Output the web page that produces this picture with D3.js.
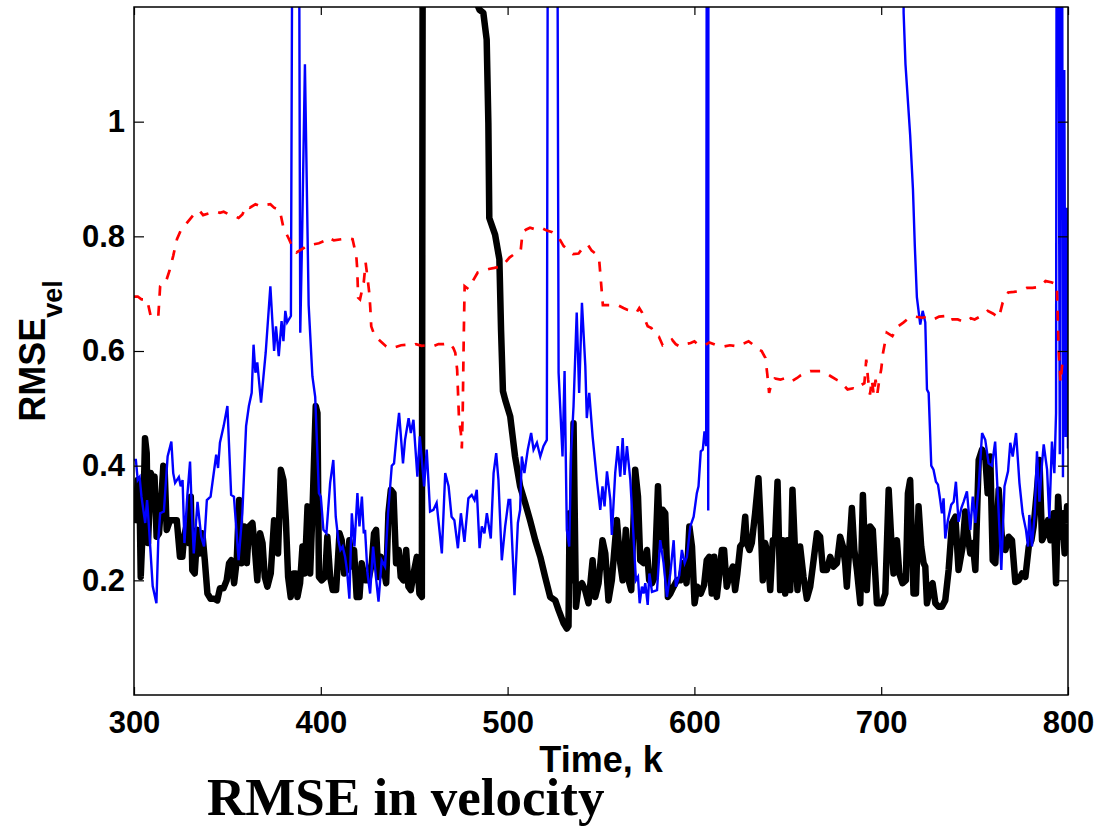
<!DOCTYPE html>
<html>
<head>
<meta charset="utf-8">
<script src="https://cdn.jsdelivr.net/npm/d3@7"></script>
<style>
  body { margin: 0; background: #fff; }
  svg { display: block; }
  .tick text { font-family: "Liberation Sans", Arial, sans-serif; font-weight: bold; }
</style>
</head>
<body>
<div class="container"></div>
<script>
// axis settings
const kRange = [300, 800]
const vRange = [0, 1.2]
const xTicks = [300, 400, 500, 600, 700, 800]
const yTicks = [0.2, 0.4, 0.6, 0.8, 1]

// red dashed curve  [k, rmse]
const dashedRed = [[300,0.695],[302,0.695],[304,0.69],[307,0.69],[309,0.66],[311,0.66],[313,0.66],[314,0.713],[316,0.72],[317,0.72],[319,0.74],[321,0.766],[323,0.795],[325,0.81],[327,0.818],[330,0.83],[333,0.842],[335,0.845],[337,0.837],[340,0.84],[344,0.843],[346,0.841],[348,0.843],[351,0.838],[354,0.835],[356,0.832],[358,0.838],[360,0.853],[362,0.85],[365,0.856],[368,0.852],[371,0.855],[373,0.856],[375,0.85],[378,0.846],[380,0.815],[383,0.795],[385,0.78],[387,0.772],[389,0.776],[391,0.78],[393,0.785],[396,0.786],[399,0.788],[402,0.792],[404,0.798],[407,0.793],[411,0.795],[414,0.797],[417,0.795],[419,0.766],[419.5,0.743],[420,0.693],[421,0.69],[423,0.72],[424,0.754],[425,0.728],[426,0.70],[426.5,0.675],[427,0.643],[429,0.625],[431,0.62],[433,0.614],[435,0.608],[437,0.605],[440,0.607],[443,0.61],[446,0.611],[449,0.609],[451,0.612],[454,0.609],[457,0.61],[460,0.608],[463,0.612],[466,0.612],[469,0.614],[471,0.605],[472,0.597],[473,0.567],[474,0.48],[475,0.457],[475.5,0.43],[476,0.5],[476.5,0.62],[477,0.713],[479,0.708],[481,0.72],[484,0.737],[487,0.74],[490,0.743],[493,0.745],[497,0.748],[501,0.763],[504,0.77],[507,0.775],[508,0.807],[510,0.812],[512,0.815],[515,0.812],[518,0.815],[521,0.81],[524,0.807],[527,0.8],[530,0.783],[533,0.775],[535,0.769],[538,0.77],[541,0.783],[543,0.785],[545,0.775],[547,0.77],[549,0.76],[550,0.72],[551,0.68],[553,0.68],[556,0.68],[559,0.68],[562,0.675],[564,0.672],[567,0.67],[569,0.667],[570.5,0.675],[572,0.667],[575,0.643],[577,0.64],[579,0.628],[581,0.625],[583,0.61],[586,0.615],[588,0.62],[590,0.612],[592,0.608],[595,0.612],[598,0.614],[600,0.617],[602,0.611],[604,0.612],[606,0.611],[608,0.615],[611,0.611],[614,0.61],[616,0.608],[619,0.61],[623,0.608],[625,0.612],[627,0.614],[629,0.617],[631,0.612],[633,0.605],[636,0.6],[638,0.588],[639,0.56],[640,0.527],[641,0.54],[643,0.552],[646,0.55],[649,0.553],[652,0.547],[655,0.553],[657,0.558],[659,0.562],[662,0.565],[665,0.565],[668,0.565],[670,0.562],[673,0.556],[676,0.55],[678,0.547],[680,0.54],[682,0.533],[685,0.535],[687,0.533],[689,0.54],[691,0.544],[692,0.585],[693,0.55],[694,0.524],[695,0.55],[696,0.524],[697,0.55],[698,0.527],[699,0.55],[700,0.568],[701,0.597],[703,0.632],[706,0.626],[709,0.643],[712,0.65],[715,0.658],[718,0.66],[722,0.658],[725,0.66],[728,0.655],[731,0.66],[734,0.661],[736,0.652],[738,0.655],[741,0.655],[745,0.65],[748,0.657],[750,0.655],[754,0.662],[757,0.67],[760,0.665],[763,0.658],[765,0.684],[768,0.702],[771,0.703],[775,0.705],[778,0.71],[781,0.71],[785,0.712],[788,0.722],[791,0.72],[794,0.716],[795,0.6],[796,0.545],[797,0.58]]

// thin blue curve (values above 1.2 run off the top of the axes)
const thinBlue = [[300,0.41],[301,0.41],[302,0.375],[303,0.38],[304,0.346],[306,0.3],[307,0.34],[308,0.294],[310,0.19],[312,0.16],[313,0.27],[314,0.317],[316,0.32],[318,0.416],[320,0.442],[321,0.387],[322,0.37],[324,0.38],[325,0.364],[326,0.375],[327,0.265],[328.5,0.346],[330,0.407],[331,0.317],[332,0.247],[334,0.337],[336,0.276],[337.5,0.259],[339,0.34],[341,0.346],[344,0.419],[345,0.396],[346,0.44],[348,0.469],[350,0.504],[352,0.349],[353.5,0.346],[356,0.235],[358,0.317],[360,0.469],[361.5,0.504],[363,0.527],[364,0.611],[365,0.562],[366,0.58],[368,0.51],[370.5,0.597],[373,0.713],[375,0.6],[376,0.643],[377.5,0.591],[379,0.652],[380,0.617],[381,0.67],[382,0.65],[384,0.661],[385,1.6],[386,2.2],[388,1.8],[389,0.632],[390,0.8],[391.5,1.1],[393.5,0.68],[395.5,0.556],[397,0.52],[399,0.352],[400,0.346],[401.4,0.288],[403,0.282],[405,0.37],[406.7,0.41],[408,0.311],[409.4,0.27],[410.5,0.253],[411.7,0.259],[413,0.241],[414,0.218],[415.3,0.168],[416.6,0.317],[418,0.259],[419.6,0.352],[420.7,0.294],[422,0.346],[423,0.282],[423.7,0.288],[425,0.212],[426.4,0.177],[428,0.259],[429.5,0.206],[430.9,0.163],[432.6,0.235],[434.4,0.224],[436,0.317],[438,0.4],[439.2,0.404],[440.7,0.457],[441.9,0.492],[444,0.404],[445.1,0.445],[447,0.483],[448.2,0.457],[449.6,0.48],[451.7,0.381],[453,0.451],[455.3,0.364],[456.7,0.428],[458.5,0.32],[460.3,0.323],[462,0.335],[464.8,0.247],[466.6,0.387],[468.4,0.364],[470,0.311],[471.5,0.305],[473.4,0.256],[475,0.317],[476.9,0.267],[479,0.343],[480.8,0.349],[482.3,0.34],[483.5,0.358],[485,0.256],[486.2,0.294],[487.6,0.282],[488.9,0.317],[491,0.273],[492.5,0.387],[493.9,0.422],[495.1,0.375],[496.9,0.235],[498.7,0.294],[500.5,0.34],[501.4,0.34],[503.7,0.174],[505.5,0.3],[506.7,0.323],[507.6,0.416],[509,0.387],[510.8,0.428],[512.6,0.457],[513.9,0.428],[515.7,0.44],[517.5,0.416],[519.2,0.434],[521,0.445],[522,2.2],[526,2.2],[527.3,0.562],[529.4,0.416],[530.5,0.565],[531.7,0.288],[533,0.259],[534,0.422],[535.3,0.504],[537,0.667],[538.3,0.527],[539.8,0.684],[541.6,0.574],[542.4,0.483],[543.7,0.527],[545.5,0.451],[547.8,0.375],[549.6,0.323],[550.8,0.364],[551.9,0.329],[553.2,0.39],[555,0.34],[555.8,0.279],[557.6,0.387],[559,0.434],[560.3,0.381],[561.6,0.448],[562.6,0.384],[563.9,0.434],[565.7,0.375],[567.1,0.294],[568.7,0.2],[569.8,0.206],[570.7,0.16],[571.9,0.189],[572.8,0.177],[573.7,0.195],[575,0.157],[575.9,0.212],[577.3,0.18],[580,0.183],[581.7,0.27],[583.5,0.23],[585.3,0.171],[587.1,0.212],[588.9,0.27],[590.1,0.189],[591.9,0.209],[593.3,0.253],[594.8,0.23],[596,0.241],[597.8,0.294],[599.6,0.311],[601.3,0.352],[602.2,0.364],[603.4,0.425],[604.5,0.428],[605.4,0.46],[606.3,0.434],[606.9,2.2],[607.4,0.322],[607.6,2.2],[711,2.2],[712,1.19],[713,1.1],[715.5,0.977],[717,0.882],[718,0.783],[719.1,0.694],[720.9,0.646],[722.2,0.67],[723.6,0.65],[724.5,0.533],[725.4,0.527],[726.8,0.4],[728,0.393],[729.3,0.372],[730.4,0.367],[731.6,0.34],[732.5,0.317],[733.4,0.343],[734.3,0.273],[735.7,0.305],[737.5,0.332],[738.8,0.337],[740,0.372],[741.4,0.302],[742.9,0.326],[744.1,0.337],[745.9,0.355],[747.7,0.288],[749,0.346],[750.4,0.3],[752.2,0.364],[754,0.457],[755.7,0.445],[757.5,0.404],[759.3,0.4],[761,0.442],[762.9,0.317],[764.3,0.218],[766,0.364],[767.9,0.39],[769.1,0.44],[770.4,0.416],[772.2,0.457],[774,0.37],[775.7,0.317],[777.5,0.288],[778.6,0.259],[779.3,0.314],[780.7,0.259],[782.2,0.317],[783.4,0.425],[784.7,0.337],[786.1,0.404],[787,0.437],[788.8,0.393],[790,0.308],[791.4,0.442],[792.7,0.387],[793.6,0.492],[794.2,2.2],[795.6,0.42],[796.5,2.2],[797.3,0.38],[798,1.09],[798.7,0.45],[799.3,0.85],[800,0.43]]

// thick black curve
const thickBlack = [[300,0.3],[301,0.317],[302,0.375],[303,0.34],[303.6,0.206],[305,0.317],[305.9,0.448],[306.8,0.422],[307.5,0.265],[309,0.387],[310.4,0.375],[311,0.381],[312.1,0.276],[313.4,0.282],[314.6,0.34],[315.7,0.4],[316.4,0.393],[317.5,0.288],[319.3,0.305],[321,0.305],[322.9,0.305],[324.6,0.241],[325.9,0.241],[326.8,0.276],[328.2,0.297],[329.5,0.265],[330.4,0.346],[331.2,0.218],[332.5,0.212],[334,0.288],[335.4,0.247],[336.6,0.282],[337.9,0.235],[339.3,0.177],[341,0.168],[342.9,0.168],[344.6,0.165],[346,0.186],[347.9,0.186],[349.6,0.2],[350.9,0.23],[352.1,0.235],[353.6,0.195],[355,0.235],[356.3,0.34],[357.5,0.23],[359,0.294],[360.4,0.23],[361.6,0.294],[363.4,0.3],[364.6,0.259],[366,0.2],[367.5,0.282],[368.8,0.265],[370,0.206],[371.4,0.189],[373.2,0.212],[375,0.305],[376.4,0.288],[377.1,0.247],[378.6,0.393],[380,0.375],[381.3,0.305],[382.5,0.206],[383.9,0.171],[385.4,0.212],[386.6,0.212],[387.5,0.171],[388.9,0.195],[390.2,0.259],[391.4,0.212],[392.9,0.329],[394.3,0.212],[395.5,0.317],[397.3,0.504],[398.2,0.492],[399,0.206],[400.5,0.2],[402.3,0.206],[403.5,0.276],[405,0.206],[406.4,0.183],[408.2,0.183],[410,0.282],[411.2,0.27],[412.5,0.212],[413.9,0.218],[415.3,0.27],[416.6,0.224],[417.8,0.253],[419.2,0.171],[420.7,0.171],[421.9,0.23],[423.7,0.2],[425.5,0.2],[427.3,0.23],[428.5,0.282],[429.6,0.288],[430.9,0.206],[432.1,0.241],[433.5,0.224],[435,0.195],[436.2,0.317],[437.5,0.358],[438.9,0.352],[440.3,0.23],[441.7,0.253],[442.8,0.206],[444.2,0.2],[445.7,0.253],[446.9,0.189],[448.2,0.183],[450,0.218],[451.4,0.241],[452.8,0.177],[454.1,0.171],[455,2.5],[482,2.5],[483,1.21],[485,1.195],[487,1.19],[488.8,1.143],[489.7,0.998],[490.2,0.832],[493.3,0.803],[495.6,0.76],[496.5,0.636],[497.5,0.53],[498.7,0.515],[501.4,0.486],[504,0.416],[506.7,0.364],[509.4,0.335],[512,0.305],[514.8,0.27],[517.5,0.241],[520.1,0.206],[522.8,0.171],[525.5,0.165],[527.3,0.148],[530,0.125],[531.7,0.116],[532.6,0.12],[533.2,0.317],[534,0.2],[535.3,0.474],[536.6,0.154],[538,0.189],[539.8,0.195],[541.5,0.183],[543.3,0.16],[545.5,0.235],[546.9,0.171],[548.7,0.195],[550.8,0.27],[552.3,0.247],[554,0.165],[555.8,0.2],[558.5,0.305],[560.3,0.23],[561.6,0.2],[563.3,0.288],[564.8,0.2],[566.2,0.183],[568.3,0.393],[569.8,0.346],[571,0.235],[572.8,0.23],[574.6,0.253],[575.8,0.2],[577.3,0.195],[578.7,0.206],[580.5,0.364],[581.7,0.259],[583,0.323],[584.4,0.317],[585.8,0.171],[587.1,0.177],[588.9,0.189],[590.7,0.2],[592.5,0.2],[594.2,0.23],[595.8,0.195],[597.3,0.294],[598.7,0.259],[600.1,0.16],[601.5,0.189],[603.4,0.177],[605.2,0.192],[606.6,0.235],[608,0.241],[609.3,0.177],[610.6,0.241],[612,0.171],[613.4,0.212],[614.7,0.253],[615.9,0.253],[617.3,0.189],[619.1,0.212],[620.6,0.224],[621.8,0.183],[623,0.212],[624.5,0.259],[625.9,0.265],[627.2,0.311],[628,0.265],[629.5,0.253],[630.7,0.265],[632.5,0.317],[634.3,0.378],[635.6,0.288],[636.6,0.2],[637.9,0.265],[639.1,0.247],[640.6,0.183],[642,0.27],[643.2,0.27],[644.5,0.372],[645.9,0.183],[647.3,0.27],[648.6,0.177],[649.8,0.27],[651.3,0.183],[652.5,0.358],[654,0.241],[655.2,0.183],[656.6,0.259],[658.4,0.206],[660.2,0.168],[662,0.189],[663.8,0.235],[665.6,0.282],[667.3,0.276],[668.8,0.218],[670.9,0.218],[672.7,0.241],[674.5,0.224],[676.3,0.23],[678,0.276],[679.5,0.259],[680.7,0.23],[681.6,0.189],[683,0.259],[684.3,0.326],[685.6,0.253],[687,0.218],[688.8,0.16],[690.2,0.349],[691.5,0.23],[692.3,0.183],[694.1,0.294],[695.5,0.288],[696.8,0.212],[697.7,0.16],[698.6,0.16],[700.4,0.16],[702.2,0.177],[704,0.358],[705.4,0.27],[706.6,0.212],[708.4,0.27],[709.7,0.212],[711.4,0.195],[713.2,0.2],[714.3,0.352],[715.5,0.375],[717.3,0.177],[718.6,0.177],[720,0.329],[721.4,0.259],[722.7,0.23],[723.6,0.224],[724.5,0.16],[726.3,0.189],[727.5,0.195],[729,0.16],[730.7,0.154],[732.5,0.154],[734.3,0.165],[736.1,0.218],[737.9,0.3],[739.7,0.311],[741.4,0.218],[743.6,0.259],[745,0.32],[746.4,0.276],[747.7,0.247],[749,0.265],[750.4,0.218],[752.2,0.41],[754,0.428],[755.7,0.416],[757,0.352],[758.4,0.416],[759.7,0.235],[761.1,0.23],[762.9,0.358],[764.7,0.27],[766.5,0.253],[768.2,0.276],[770,0.27],[771.8,0.197],[773.6,0.2],[775.4,0.212],[777.2,0.206],[779,0.259],[780.4,0.27],[781.6,0.294],[783.4,0.358],[784.7,0.41],[786.1,0.27],[787.9,0.282],[789.3,0.305],[790.6,0.27],[792.3,0.317],[793.6,0.195],[794.7,0.346],[795.9,0.276],[796.8,0.317],[798.2,0.247],[799.5,0.329],[800,0.3]]

const width = 1097, height = 827
const margin = {top: 7, right: 29, bottom: 132, left: 134}
const plotW = width - margin.left - margin.right
const plotH = height - margin.top - margin.bottom

var svg = d3.select('.container')
.append('svg')
.attr('width', width)
.attr('height', height)
.style('background', '#fff')

var x = d3.scaleLinear().domain(kRange).range([0, plotW])
var y = d3.scaleLinear().domain(vRange).range([plotH, 0])

var g = svg.append('g')
.attr('transform', `translate(${margin.left},${margin.top})`)

g.append('clipPath')
.attr('id', 'plotClip')
.append('rect')
.attr('width', plotW)
.attr('height', plotH)

var line = d3.line()
.x(d => x(d[0]))
.y(d => y(d[1]))

var lines = g.append('g').attr('clip-path', 'url(#plotClip)')

lines.append('path')
.datum(thickBlack)
.attr('d', line)
.attr('fill', 'none')
.attr('stroke', '#000')
.attr('stroke-width', 6.5)
.attr('stroke-linejoin', 'round')

lines.append('path')
.datum(thinBlue)
.attr('d', line)
.attr('fill', 'none')
.attr('stroke', '#0000ff')
.attr('stroke-width', 2.4)

lines.append('path')
.datum(dashedRed)
.attr('d', line)
.attr('fill', 'none')
.attr('stroke', '#ff0000')
.attr('stroke-width', 2.7)
.attr('stroke-dasharray', '10,10')

// axes, ticks pointing inwards like matlab
function styleAxis(sel){
	sel.select('.domain').remove()
	sel.selectAll('.tick line').attr('stroke', '#000').attr('stroke-width', 1.2)
	sel.selectAll('.tick text').attr('font-size', 31).attr('fill', '#000')
}

g.append('g')
.attr('transform', `translate(0,${plotH})`)
.call(d3.axisBottom(x).tickValues(xTicks).tickSizeInner(-8).tickSizeOuter(0).tickPadding(16).tickFormat(d3.format('d')))
.call(styleAxis)

g.append('g')
.call(d3.axisTop(x).tickValues(xTicks).tickSizeInner(-8).tickSizeOuter(0).tickFormat(''))
.call(styleAxis)

g.append('g')
.call(d3.axisLeft(y).tickValues(yTicks).tickSizeInner(-10).tickSizeOuter(0).tickPadding(9).tickFormat(d => d === 1 ? '1' : d3.format('.1f')(d)))
.call(styleAxis)

g.append('g')
.attr('transform', `translate(${plotW},0)`)
.call(d3.axisRight(y).tickValues(yTicks).tickSizeInner(-10).tickSizeOuter(0).tickFormat(''))
.call(styleAxis)

g.append('rect')
.attr('width', plotW)
.attr('height', plotH)
.attr('fill', 'none')
.attr('stroke', '#000')
.attr('stroke-width', 1.5)

// labels
svg.append('text')
.attr('x', margin.left + plotW / 2)
.attr('y', 772)
.attr('text-anchor', 'middle')
.attr('font-family', '"Liberation Sans", Arial, sans-serif')
.attr('font-weight', 'bold')
.attr('font-size', 36)
.text('Time, k')

var ylab = svg.append('text')
.attr('transform', `translate(45,${margin.top + plotH / 2}) rotate(-90)`)
.attr('text-anchor', 'middle')
.attr('font-family', '"Liberation Sans", Arial, sans-serif')
.attr('font-weight', 'bold')
.attr('font-size', 36)
ylab.append('tspan').text('RMSE')
ylab.append('tspan').attr('dy', 17).attr('font-size', 27).text('vel')

svg.append('text')
.attr('x', 207)
.attr('y', 815)
.attr('font-family', '"Liberation Serif", "Times New Roman", serif')
.attr('font-weight', 'bold')
.attr('font-size', 53)
.text('RMSE in velocity')
</script>
</body>
</html>
